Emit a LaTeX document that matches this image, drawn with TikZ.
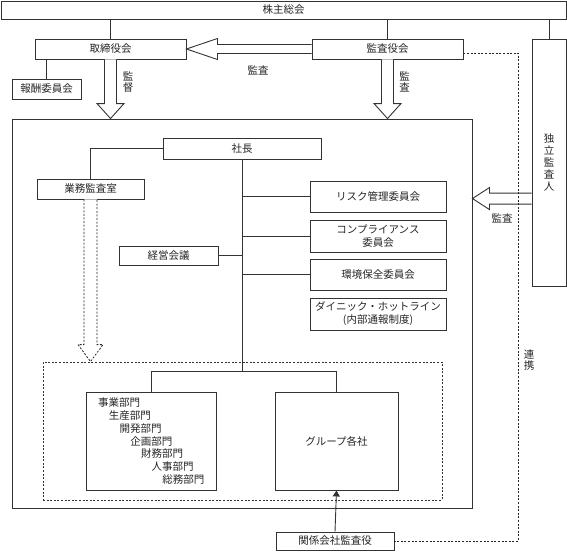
\documentclass[tikz,border=0pt]{standalone}
\usepackage{fontspec}
\setmainfont{Noto Sans CJK JP}
\usetikzlibrary{calc,arrows.meta}
\begin{document}
\begin{tikzpicture}[x=1pt,y=-1pt,
  every node/.style={font=\fontsize{10.5}{13}\selectfont, inner sep=0pt, text=black!85},
  box/.style={draw=black!80, line width=0.9pt, fill=white, align=center},
  frame/.style={draw=black!80, line width=0.9pt},
  dframe/.style={draw=black!80, line width=0.8pt, dash pattern=on 2pt off 1.6pt},
  ln/.style={draw=black!80, line width=0.9pt},
  dln/.style={draw=black!85, line width=0.8pt, dash pattern=on 2pt off 1.6pt},
  hollow/.style={draw=black!80, line width=0.9pt, fill=white, line join=miter},
  vlab/.style={align=center, font=\fontsize{10.5}{11}\selectfont},
]
\useasboundingbox (0,0) rectangle (567,551);

% frames
\node[frame, minimum width=460pt, minimum height=389pt] (big) at (242,313.5) {};
\node[dframe, minimum width=399pt, minimum height=138pt] (dbox) at (242.5,431) {};

% top level boxes
\node[box, minimum width=565pt, minimum height=18pt] (kabu) at (283.5,10) {株主総会};
\node[box, minimum width=151pt, minimum height=20pt] (tori) at (110.5,49) {取締役会};
\node[box, minimum width=151pt, minimum height=20pt] (kansa) at (387.5,49) {監査役会};
\node[box, minimum width=69pt, minimum height=20pt] (housyu) at (46.5,89) {報酬委員会};
\node[box, minimum width=34pt, minimum height=247pt, font=\fontsize{10.5}{12}\selectfont] (doku) at (549,162.5) {独\\立\\監\\査\\人};

% inside
\node[box, minimum width=158pt, minimum height=21pt] (shacho) at (242,148.5) {社長};
\node[box, minimum width=107pt, minimum height=20pt] (gyomu) at (90.5,189) {業務監査室};
\node[box, minimum width=99pt, minimum height=19pt] (keiei) at (168.5,255.5) {経営会議};
\node[box, minimum width=136pt, minimum height=31pt] (risk) at (378,196.5) {リスク管理委員会};
\node[box, minimum width=136pt, minimum height=32pt] (comp) at (378,236) {コンプライアンス\\委員会};
\node[box, minimum width=136pt, minimum height=31pt] (kankyo) at (378,274.5) {環境保全委員会};
\node[box, minimum width=136pt, minimum height=32pt] (hot) at (378,314) {ダイニック・ホットライン\\(内部通報制度)};

\node[box, minimum width=130pt, minimum height=98pt] (dept) at (151,441) {};
\node[box, minimum width=123pt, minimum height=98pt] (group) at (336.5,441) {グループ各社};
\node[box, minimum width=118pt, minimum height=18pt] (kankei) at (335,541) {関係会社監査役};

% department list
\foreach \t [count=\i from 0] in {事業部門,生産部門,開発部門,企画部門,財務部門,人事部門,総務部門}
  \node[anchor=west] (d\i) at ({98+10.7*\i},{402.7+12.8*\i}) {\t};

% connectors
\draw[ln] (kabu.south -| tori.north) -- (tori.north);
\draw[ln] (kabu.south -| kansa.north) -- (kansa.north);
\draw[ln] (kabu.south -| doku.north) -- (doku.north);
\draw[ln] (tori.south -| housyu.north) -- (housyu.north);
\draw[ln] (shacho.west) -| (gyomu.north);
\coordinate (jn) at (shacho.south |- dept.north);
\coordinate (jb) at ($(jn)+(0,-20)$);
\draw[ln] (shacho.south) -- (jb);
\draw[ln] (shacho.south |- risk.west) -- (risk.west);
\draw[ln] (shacho.south |- comp.west) -- (comp.west);
\draw[ln] (shacho.south |- kankyo.west) -- (kankyo.west);
\draw[ln] (keiei.east) -- (shacho.south |- keiei.east);
\draw[ln] (dept.north) |- (jb) -| (group.north);
\draw[ln, -{Triangle[length=6pt,width=7pt]}] (kankei.north) -- (group.south);

% hollow arrow: 監査役会 -> 取締役会
\coordinate (t0) at (tori.east);
\draw[hollow] ($(kansa.west)+(0,-4.5)$) -- ($(t0)+(31,-4.5)$) -- ($(t0)+(31,-10.5)$) -- (t0)
  -- ($(t0)+(31,10.5)$) -- ($(t0)+(31,4.5)$) -- ($(kansa.west)+(0,4.5)$);

% hollow arrow: 取締役会 down (監督)
\coordinate (t1) at (tori.south |- big.north);
\draw[hollow] ($(tori.south)+(-6,0)$) -- ($(t1)+(-6,-15)$) -- ($(t1)+(-13.5,-15)$) -- (t1)
  -- ($(t1)+(13.5,-15)$) -- ($(t1)+(6,-15)$) -- ($(tori.south)+(6,0)$);

% hollow arrow: 監査役会 down (監査)
\coordinate (t2) at (kansa.south |- big.north);
\draw[hollow] ($(kansa.south)+(-6,0)$) -- ($(t2)+(-6,-15)$) -- ($(t2)+(-13.5,-15)$) -- (t2)
  -- ($(t2)+(13.5,-15)$) -- ($(t2)+(6,-15)$) -- ($(kansa.south)+(6,0)$);

% hollow arrow: 独立監査人 -> big
\coordinate (t3) at ($(big.north east)+(0,80)$);
\draw[hollow] ($(doku.west |- t3)+(0,-5.5)$) -- ($(t3)+(17,-5.5)$) -- ($(t3)+(17,-11)$) -- (t3)
  -- ($(t3)+(17,11)$) -- ($(t3)+(17,5.5)$) -- ($(doku.west |- t3)+(0,5.5)$);

% dashed link (drawn over the arrow shaft)
\coordinate (dc) at (518.5,0);
\draw[dln] ($(kansa.east)+(0,4)$) -| (dc |- kankei.east) -- (kankei.east);

% dashed hollow arrow: 業務監査室 down
\coordinate (t4) at (gyomu.south |- dbox.north);
\draw[hollow, draw=black!85, dash pattern=on 2pt off 1.6pt, line width=0.8pt] ($(gyomu.south)+(-6.5,0)$) -- ($(t4)+(-6.5,-17)$) -- ($(t4)+(-12.5,-17)$) -- (t4)
  -- ($(t4)+(12.5,-17)$) -- ($(t4)+(6.5,-17)$) -- ($(gyomu.south)+(6.5,0)$);

% labels
\node (l1) at (258,70) {監査};
\node[vlab] (l2) at (128,82) {監\\督};
\node[vlab] (l3) at (404.5,82) {監\\査};
\node (l4) at (502,218) {監査};
\node[vlab] (l5) at (529,360) {連\\携};
\end{tikzpicture}
\end{document}
